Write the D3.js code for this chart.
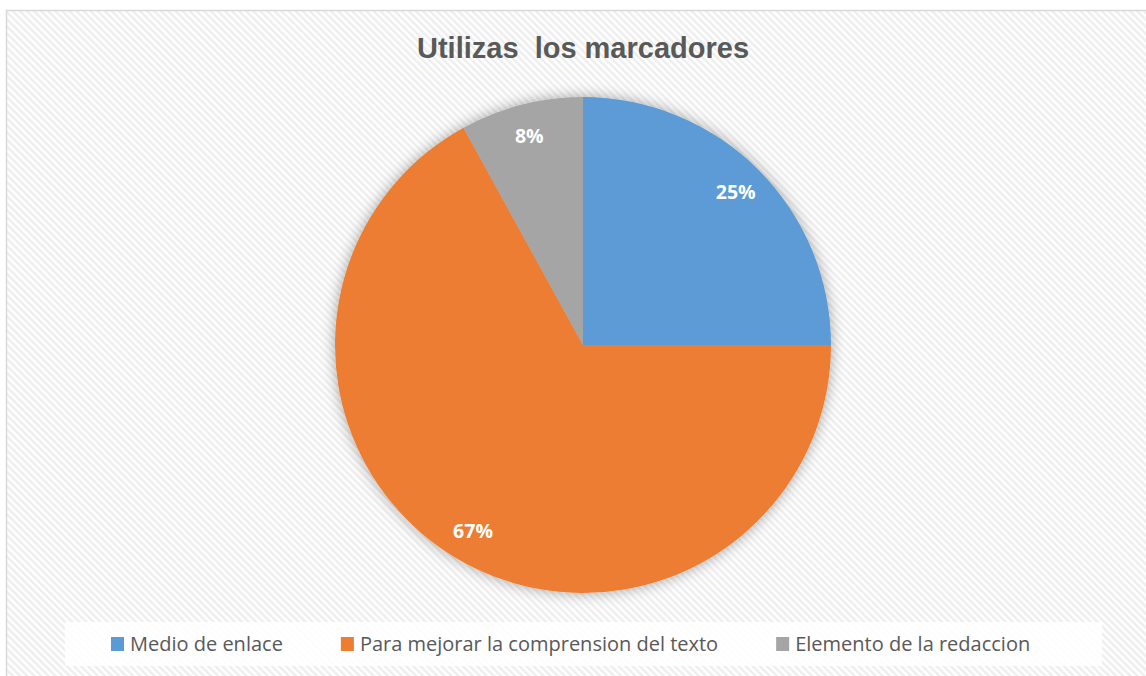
<!DOCTYPE html>
<html>
<head>
<meta charset="utf-8">
<script src="https://cdn.jsdelivr.net/npm/d3@7"></script>
<style>
  body { margin: 0; background: #fff; }
  svg { display: block; }
</style>
</head>
<body>
<script>
// datos del grafico
var categorias = ["Medio de enlace", "Para mejorar la comprension del texto", "Elemento de la redaccion"]
var valores = [25, 67, 8]
var etiquetas = ["25%", "67%", "8%"]
var colores = ["#5B9BD5", "#ED7D31", "#A5A5A5"]
var titulo = "Utilizas  los marcadores"

var W = 1146, H = 676
var cx = 583, cy = 345, radio = 248

var svg = d3.select("body").append("svg")
    .attr("width", W)
    .attr("height", H)

var defs = svg.append("defs")

// fondo rayado diagonal
var patron = defs.append("pattern")
    .attr("id", "rayas")
    .attr("width", 5)
    .attr("height", 5)
    .attr("patternUnits", "userSpaceOnUse")
    .attr("patternTransform", "rotate(-45)")
patron.append("rect").attr("width", 5).attr("height", 5).attr("fill", "#ffffff")
patron.append("rect").attr("width", 2.5).attr("height", 5).attr("fill", "#eeeeee")

// sombra suave del pastel
var filtro = defs.append("filter")
    .attr("id", "sombra")
    .attr("x", "-20%").attr("y", "-20%")
    .attr("width", "140%").attr("height", "140%")
filtro.append("feGaussianBlur").attr("in", "SourceAlpha").attr("stdDeviation", 7).attr("result", "blur")
filtro.append("feFlood").attr("flood-color", "#000").attr("flood-opacity", 0.35)
filtro.append("feComposite").attr("in2", "blur").attr("operator", "in").attr("result", "shadow")
var merge = filtro.append("feMerge")
merge.append("feMergeNode").attr("in", "shadow")
merge.append("feMergeNode").attr("in", "SourceGraphic")

// marco del grafico
svg.append("rect")
    .attr("x", 6.5).attr("y", 10.5)
    .attr("width", W + 10).attr("height", H + 10)
    .attr("fill", "url(#rayas)")
    .attr("stroke", "#d9d9d9")
    .attr("stroke-width", 1.5)

// titulo
svg.append("text")
    .attr("x", cx)
    .attr("y", 58)
    .attr("text-anchor", "middle")
    .style("white-space", "pre")
    .attr("font-family", "'Liberation Sans', Arial, sans-serif")
    .attr("font-weight", "bold")
    .attr("font-size", 29)
    .attr("fill", "#595959")
    .text(titulo)

// pastel
var pie = d3.pie().sort(null).value(d => d)
var arcos = pie(valores)
var arco = d3.arc().innerRadius(0).outerRadius(radio)
var arcoEtiqueta = d3.arc().innerRadius(216).outerRadius(216)

var g = svg.append("g").attr("transform", "translate(" + cx + "," + cy + ")")

g.append("g")
    .attr("filter", "url(#sombra)")
    .selectAll("path")
    .data(arcos)
    .enter()
    .append("path")
    .attr("d", arco)
    .attr("fill", (d, i) => colores[i])

g.selectAll("text")
    .data(arcos)
    .enter()
    .append("text")
    .attr("transform", d => "translate(" + arcoEtiqueta.centroid(d) + ")")
    .attr("dy", "0.35em")
    .attr("text-anchor", "middle")
    .attr("font-family", "'Open Sans', sans-serif")
    .attr("font-weight", "bold")
    .attr("font-size", 19.5)
    .attr("fill", "#ffffff")
    .text((d, i) => etiquetas[i])

// leyenda
svg.append("rect")
    .attr("x", 65).attr("y", 622)
    .attr("width", 1037).attr("height", 44)
    .attr("fill", "#ffffff")
    .attr("fill-opacity", 0.85)

var leyenda = svg.append("g")
var xPos = 111
categorias.forEach(function (c, i) {
    var item = leyenda.append("g").attr("transform", "translate(" + xPos + ",0)")
    item.append("rect")
        .attr("x", 0).attr("y", 637)
        .attr("width", 13).attr("height", 14)
        .attr("fill", colores[i])
    var t = item.append("text")
        .attr("x", 19)
        .attr("y", 651)
        .attr("font-family", "'Open Sans', sans-serif")
        .attr("font-size", 20)
        .attr("fill", "#595959")
        .text(c)
    xPos += 19 + t.node().getComputedTextLength() + 58
})
</script>
</body>
</html>
